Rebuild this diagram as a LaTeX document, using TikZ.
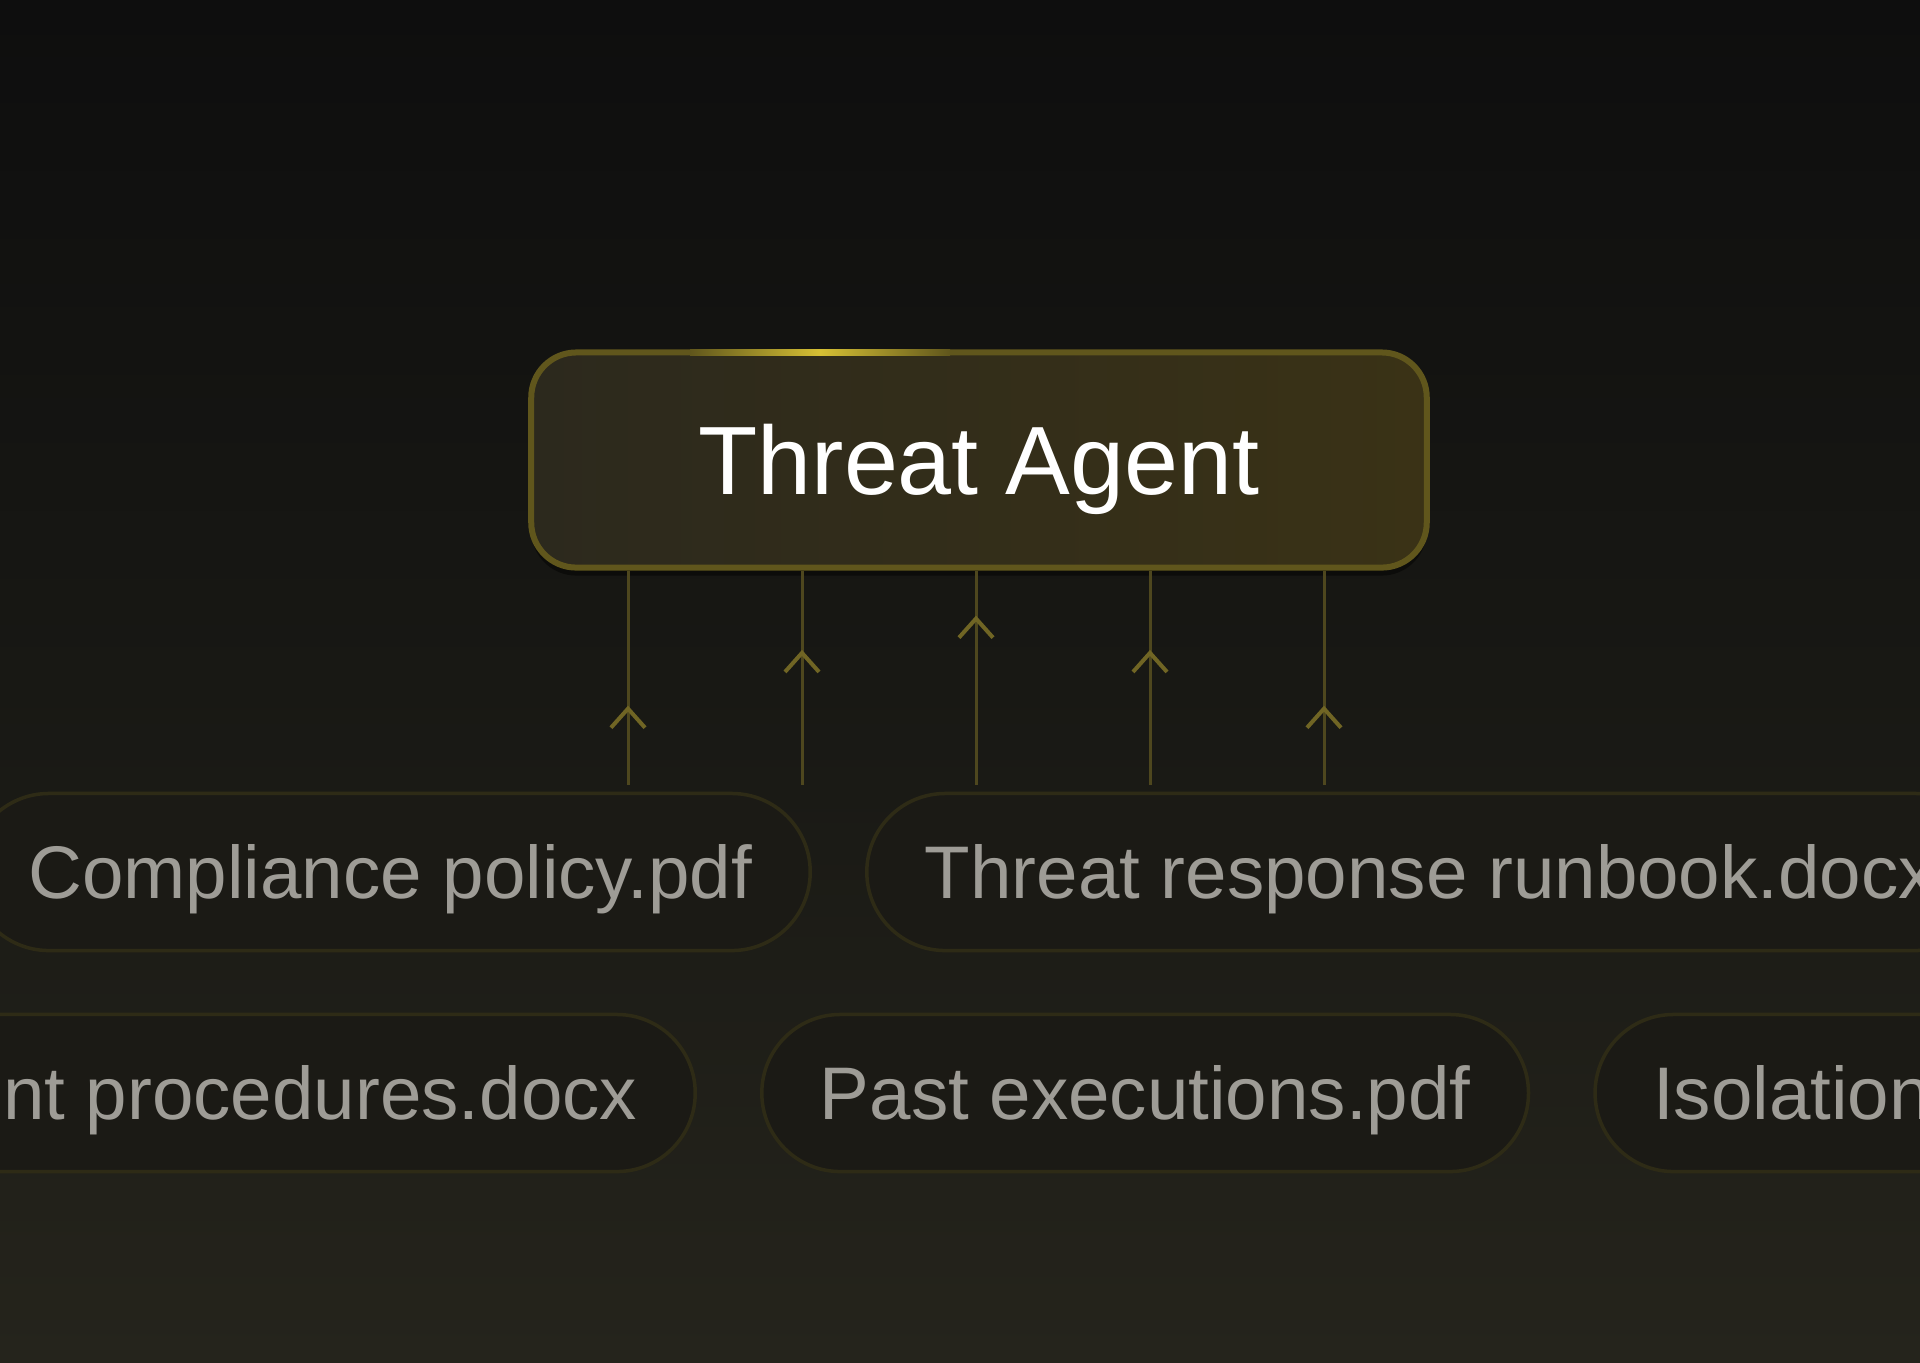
\documentclass[tikz,border=0pt]{standalone}
\usepackage{fontspec}
\setmainfont{Liberation Sans}
\usepackage{tikz}
\usetikzlibrary{arrows.meta, positioning, decorations.markings, shadows}
\usepackage{xcolor}
\definecolor{bgtop}{RGB}{14,14,14}
\definecolor{bgmid}{RGB}{24,24,20}
\definecolor{bgbot}{RGB}{37,36,28}
\definecolor{agentleft}{RGB}{44,41,29}
\definecolor{agentright}{RGB}{58,50,22}
\definecolor{agentrim}{RGB}{96,86,28}
\definecolor{agentglow}{RGB}{214,192,52}
\definecolor{pillfill}{RGB}{27,26,21}
\definecolor{pillrim}{RGB}{46,43,22}
\definecolor{pilltext}{RGB}{158,156,150}
\definecolor{feedline}{RGB}{78,71,30}
\definecolor{feedtip}{RGB}{112,101,36}

\begin{document}
\begin{tikzpicture}[x=0.01cm, y=-0.01cm,
  agent/.style={rectangle, rounded corners=0.45cm, draw=agentrim, line width=0.06cm,
                left color=agentleft, right color=agentright,
                minimum width=8.95cm, minimum height=2.15cm, inner sep=0pt,
                text height=19.8pt, text depth=0pt, text=white,
                drop shadow={shadow xshift=0cm, shadow yshift=-0.08cm, opacity=0.45, fill=black},
                font=\fontsize{27.6pt}{33pt}\selectfont},
  doc/.style={rectangle, rounded corners=0.785cm, draw=pillrim, line width=0.035cm,
              fill=pillfill, minimum height=1.57cm, inner xsep=0.58cm, inner ysep=0pt,
              text height=15.2pt, text depth=0pt, text=pilltext,
              font=\fontsize{21.2pt}{25pt}\selectfont},
  feed/.style={feedline, line width=0.03cm, postaction={decorate},
               decoration={markings, mark=at position #1 with
                 {\arrow{Straight Barb[length=0.19cm, width=0.34cm, line width=0.04cm, color=feedtip]}}}}
]
\path[use as bounding box] (0,0) rectangle (1920,1362);
\clip (0,0) rectangle (1920,1362);
\shade[top color=bgtop, bottom color=bgbot, middle color=bgmid] (0,0) rectangle (1920,1362);

% agent box
\node[agent] (agent) at (979,460) {Threat Agent};
\shade[left color=agentrim, right color=agentrim, middle color=agentglow]
  (690,349.5) rectangle (950,355.5);

% inputs feeding the agent
\coordinate (in1) at (628,785);
\coordinate (in2) at (802,785);
\coordinate (in3) at (976,785);
\coordinate (in4) at (1150,785);
\coordinate (in5) at (1324,785);
\draw[feed=0.37] (in1) -- (in1 |- agent.south);
\draw[feed=0.63] (in2) -- (in2 |- agent.south);
\draw[feed=0.79] (in3) -- (in3 |- agent.south);
\draw[feed=0.63] (in4) -- (in4 |- agent.south);
\draw[feed=0.37] (in5) -- (in5 |- agent.south);

% documents
\node[doc, anchor=east] (compliance) at (812,872) {Compliance policy.pdf};
\node[doc, right=0.53cm of compliance] (runbook) {Threat response runbook.docx};
\node[doc, anchor=east] (procedures) at (697,1093) {ent procedures.docx};
\node[doc, right=0.63cm of procedures] (past) {Past executions.pdf};
\node[doc, right=0.63cm of past, text width=4cm, align=left] (isolation) {Isolation};
\end{tikzpicture}
\end{document}
